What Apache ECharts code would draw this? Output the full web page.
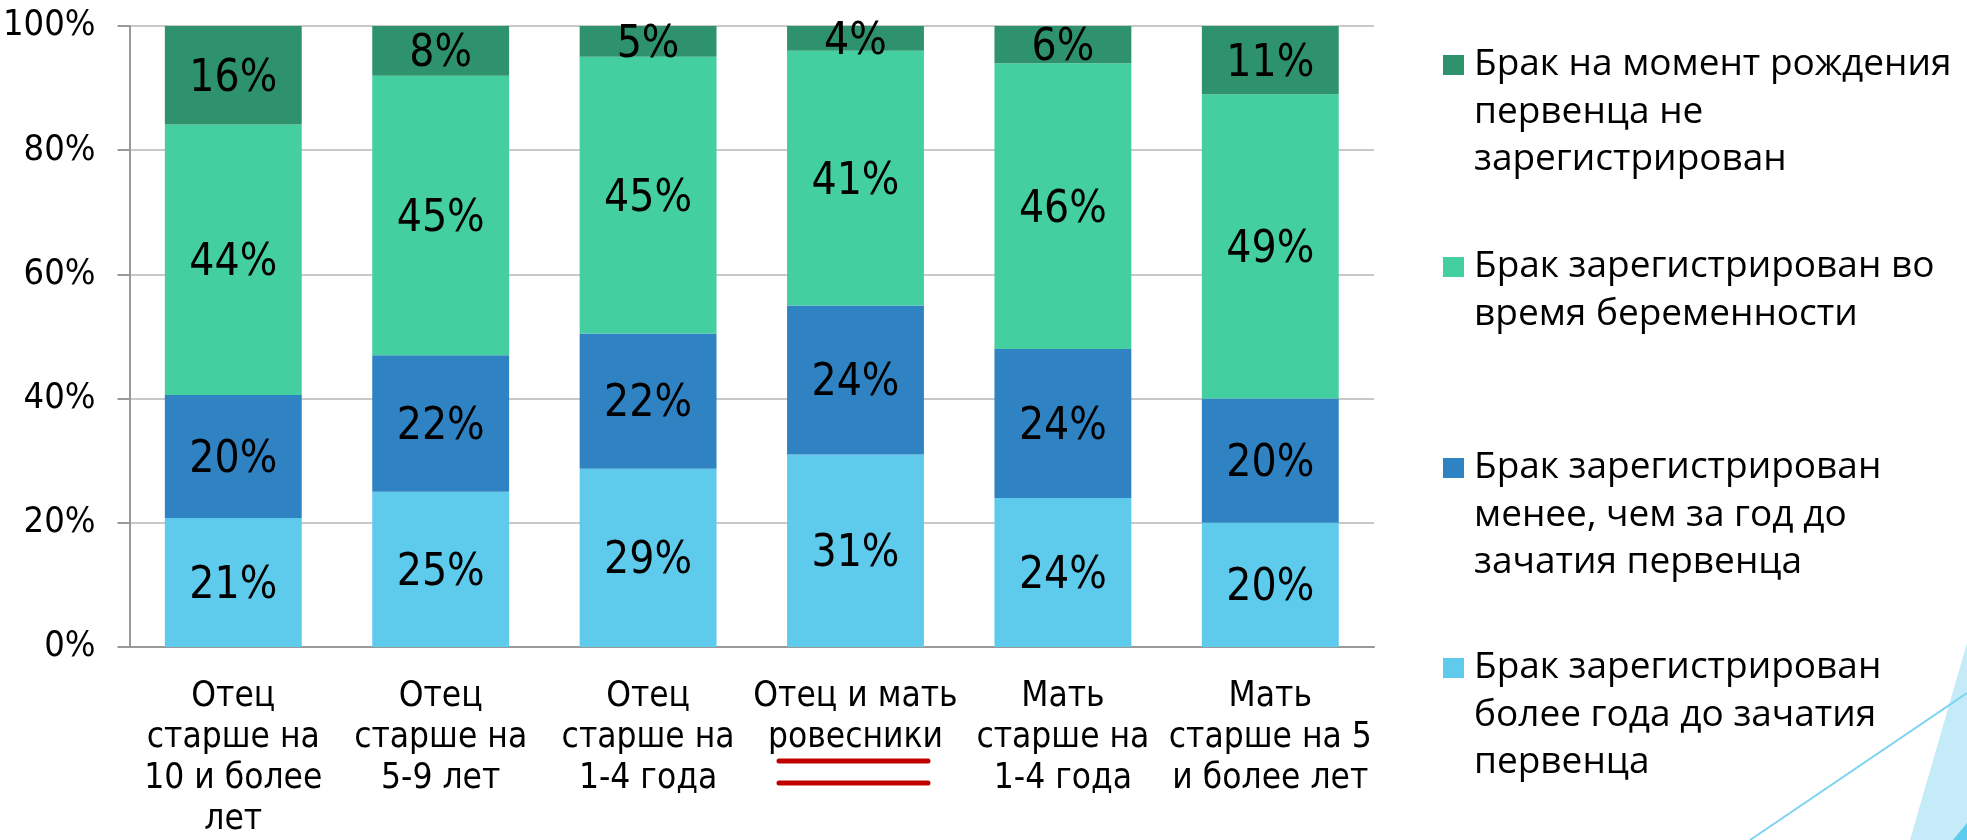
<!DOCTYPE html>
<html>
<head>
<meta charset="utf-8">
<script src="https://cdn.jsdelivr.net/npm/echarts@6/dist/echarts.min.js"></script>
<style>
  html, body { margin: 0; padding: 0; background: #fff; }
  #chart { width: 1967px; height: 840px; }
</style>
</head>
<body>
<div id="chart"></div>
<script>
// categories (x axis)
const categories = [
  'Отец\nстарше на\n10 и более\nлет',
  'Отец\nстарше на\n5-9 лет',
  'Отец\nстарше на\n1-4 года',
  'Отец и мать\nровесники',
  'Мать\nстарше на\n1-4 года',
  'Мать\nстарше на 5\nи более лет'
];

// series values, % (bottom to top of each bar)
const moreThanYear    = [21, 25, 29, 31, 24, 20];
const lessThanYear    = [20, 22, 22, 24, 24, 20];
const duringPregnancy = [44, 45, 45, 41, 46, 49];
const notRegistered   = [16, 8, 5, 4, 6, 11];

const seriesNames = [
  'Брак зарегистрирован\nболее года до зачатия\nпервенца',
  'Брак зарегистрирован\nменее, чем за год до\nзачатия первенца',
  'Брак зарегистрирован во\nвремя беременности',
  'Брак на момент рождения\nпервенца не\nзарегистрирован'
];
const seriesColors = ['#5ecbed', '#2f83c3', '#44cfa1', '#2e936d'];

const yTicks = [0, 20, 40, 60, 80, 100];

const chartFont = "'Liberation Sans Narrow', 'DejaVu Sans Condensed', 'Liberation Sans', sans-serif";
const legendFont = "'Open Sans', 'Noto Sans', sans-serif";

const allSeries = [moreThanYear, lessThanYear, duringPregnancy, notRegistered];
// column totals, so the bars fill 100% like the original stacked-percent chart
const totals = categories.map((c, i) => allSeries.reduce((s, arr) => s + arr[i], 0));

const myChart = echarts.init(document.getElementById('chart'));

const series = allSeries.map((arr, k) => ({
  name: seriesNames[k],
  type: 'bar',
  stack: 'total',
  barCategoryGap: '34%',
  itemStyle: { color: seriesColors[k] },
  label: {
    show: true,
    position: 'inside',
    offset: [0, 4],
    color: '#000',
    fontFamily: chartFont,
    fontSize: 44,
    formatter: p => arr[p.dataIndex] + '%'
  },
  data: arr.map((v, i) => v / totals[i] * 100)
}));

// legend drawn by hand so the swatch sits on the first text line
const legendTops = [41, 243, 444, 644];
const legendGraphics = [];
[3, 2, 1, 0].forEach((k, j) => {
  legendGraphics.push({
    type: 'rect',
    shape: { x: 1443, y: legendTops[j] + 14, width: 21, height: 20 },
    style: { fill: seriesColors[k] }
  });
  legendGraphics.push({
    type: 'text',
    x: 1474,
    y: legendTops[j],
    style: {
      text: seriesNames[k],
      font: '37px ' + legendFont,
      lineHeight: 47.5,
      fill: '#000',
      verticalAlign: 'top'
    }
  });
});

const option = {
  backgroundColor: '#fff',
  animation: false,
  grid: { left: 126, right: 593, top: 26, bottom: 189 },
  xAxis: {
    type: 'category',
    data: categories,
    axisLine: { lineStyle: { color: '#999', width: 2 } },
    axisTick: { length: 12, lineStyle: { color: '#999', width: 2 } },
    axisLabel: {
      color: '#000',
      fontFamily: chartFont,
      fontSize: 35,
      lineHeight: 41,
      margin: 29,
      interval: 0
    }
  },
  yAxis: {
    type: 'value',
    min: yTicks[0],
    max: yTicks[yTicks.length - 1],
    interval: yTicks[1] - yTicks[0],
    axisLine: { show: true, lineStyle: { color: '#999', width: 2 } },
    axisTick: { show: true, length: 12, lineStyle: { color: '#999', width: 2 } },
    splitLine: { lineStyle: { color: '#c8c8c8', width: 2 } },
    axisLabel: {
      color: '#000',
      fontFamily: chartFont,
      fontSize: 36,
      margin: 34,
      formatter: '{value}%'
    }
  },
  series: series,
  graphic: [
    // slide decoration, bottom right
    {
      type: 'polygon',
      shape: { points: [[1967, 643], [1910, 840], [1967, 840]] },
      style: { fill: '#c5ebf8' }
    },
    {
      type: 'polygon',
      shape: { points: [[1967, 823], [1953, 840], [1967, 840]] },
      style: { fill: '#5ecbed' }
    },
    {
      type: 'line',
      shape: { x1: 1750, y1: 840, x2: 1967, y2: 693 },
      style: { stroke: '#7fd3f2', lineWidth: 2 }
    },
    // red double underline under "ровесники"
    {
      type: 'line',
      shape: { x1: 779, y1: 761, x2: 928, y2: 761 },
      style: { stroke: '#c00000', lineWidth: 5, lineCap: 'round' }
    },
    {
      type: 'line',
      shape: { x1: 779, y1: 783, x2: 928, y2: 783 },
      style: { stroke: '#c00000', lineWidth: 5, lineCap: 'round' }
    }
  ].concat(legendGraphics)
};

myChart.setOption(option);
</script>
</body>
</html>
